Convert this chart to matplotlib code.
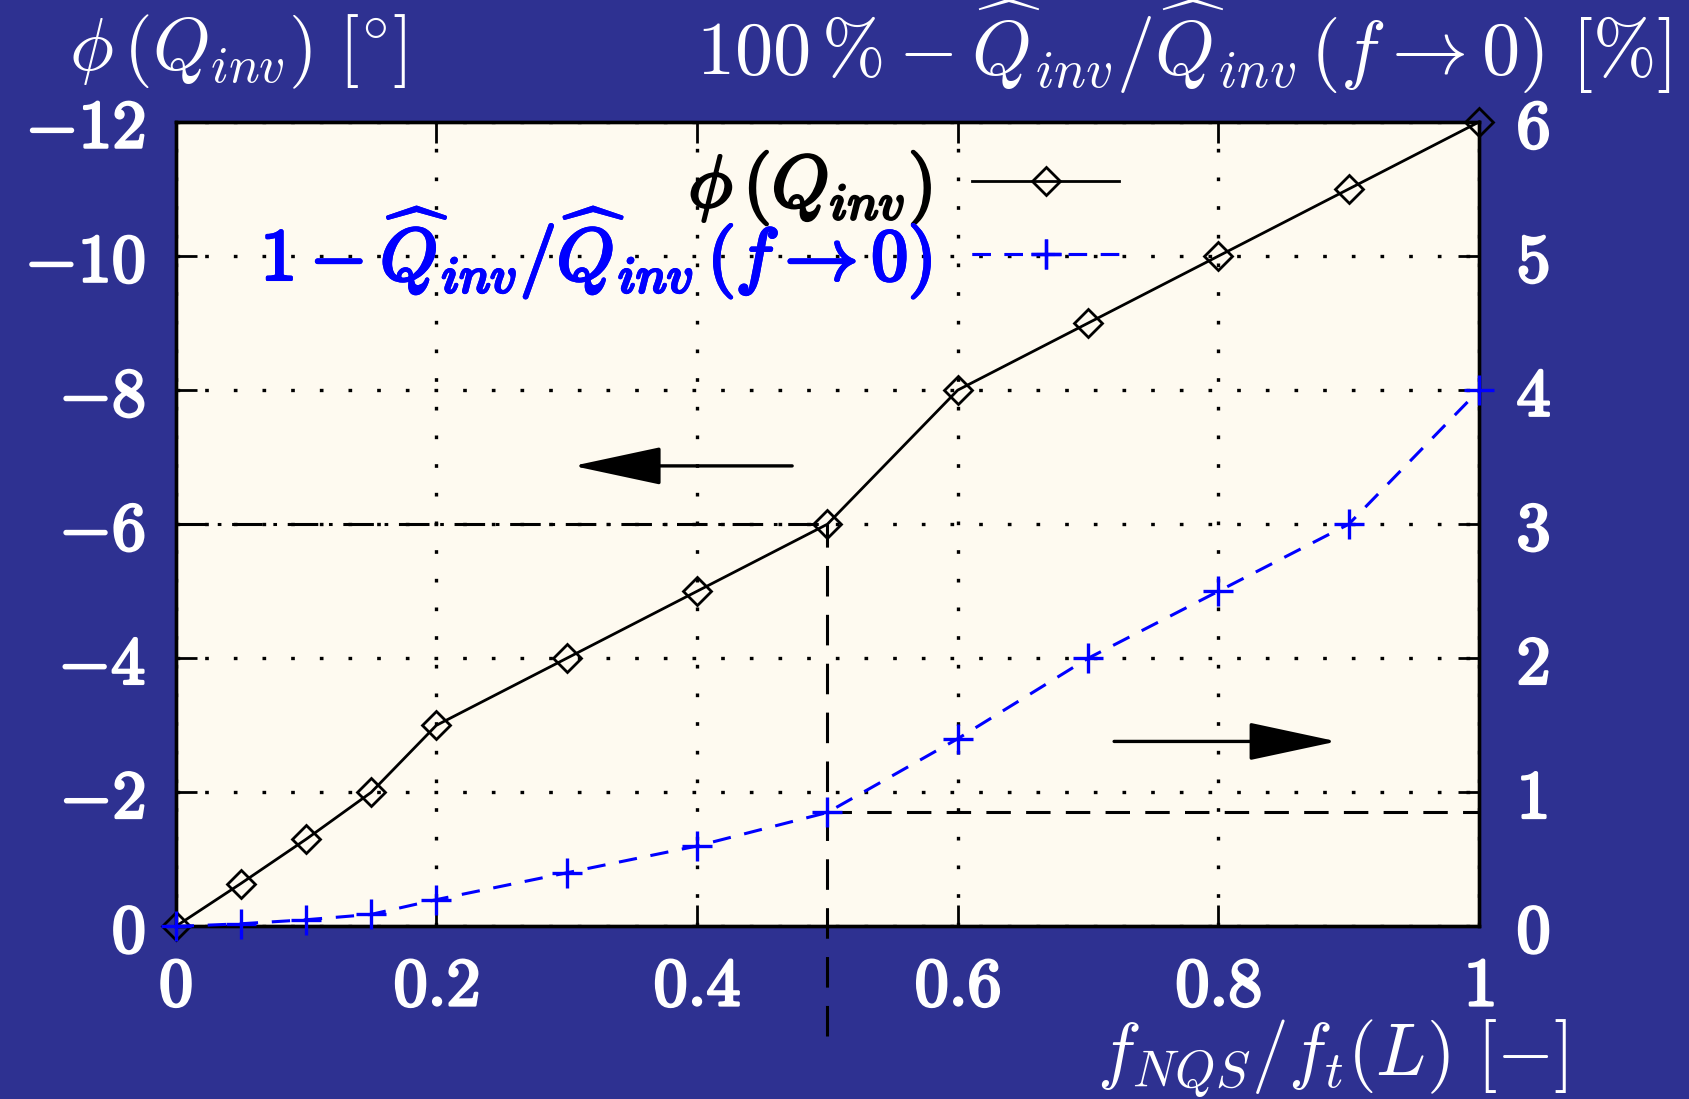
import numpy as np
import matplotlib.pyplot as plt
from matplotlib import patheffects as pe
from matplotlib.transforms import blended_transform_factory

plt.rcParams['mathtext.fontset'] = 'cm'
plt.rcParams['font.family'] = ['DejaVu Serif']

# data
f_ratio = [0, 0.05, 0.1, 0.15, 0.2, 0.3, 0.4, 0.5, 0.6, 0.7, 0.8, 0.9, 1.0]
phi = [0, -0.64, -1.3, -2.0, -3.0, -4.0, -5.0, -6.0, -8.0, -9.0, -10.0, -11.0, -12.0]
dq = [0, 0.02, 0.05, 0.09, 0.2, 0.4, 0.6, 0.85, 1.4, 2.0, 2.5, 3.0, 4.0]

xticks = [0, 0.2, 0.4, 0.6, 0.8, 1]
xticklabels = ['0', '0.2', '0.4', '0.6', '0.8', '1']
yticks_left = [0, -2, -4, -6, -8, -10, -12]
yticks_left_labels = ['0', '-2', '-4', '-6', '-8', '-10', '-12']
yticks_right = [0, 1, 2, 3, 4, 5, 6]
x_ref = 0.5

bg = '#2e3191'
cream = '#fefaf0'
fs_tick = 49
fs_lab = 53
fs_leg = 53

fig = plt.figure(figsize=(16.89, 10.99), dpi=100, facecolor=bg)
ax = fig.add_axes([0.104, 0.157, 0.7717, 0.732])
ax.set_facecolor(cream)
ax2 = ax.twinx()

grid_ls = (0, (1.1, 7.5))
ax.grid(True, color='black', ls=grid_ls, lw=2.4)
ax.set_axisbelow(True)

l1, = ax.plot(f_ratio, phi, color='black', lw=2.0, marker='D', ms=14,
              mfc='none', mec='black', mew=2.0, clip_on=False, zorder=5,
              label=r'$\phi\,(Q_{inv})$')
l2, = ax2.plot(f_ratio, dq, color='blue', lw=2.2, ls=(0, (6, 4.5)), marker='+',
               ms=21, mew=2.4, clip_on=False, zorder=5,
               label=r'$1-\widehat{Q}_{inv}/\widehat{Q}_{inv}\,(f\rightarrow 0)$')

ax.set_xlim(0, 1)
ax.set_ylim(0, -12)
ax2.set_ylim(0, 6)

# reference lines at f = 0.5
i_ref = f_ratio.index(x_ref)
phi_ref = phi[i_ref]
dq_ref = dq[i_ref]
trans = blended_transform_factory(ax.transData, ax.transAxes)
ax.plot([x_ref, x_ref], [-0.136, phi_ref / -12], transform=trans, color='black',
        lw=2.2, ls=(0, (10, 6)), clip_on=False, zorder=3)
ax.plot([0, x_ref], [phi_ref, phi_ref], color='black', lw=2.2,
        ls=(0, (10, 3.5, 1.2, 3.5)), zorder=3)
ax2.plot([x_ref, 1], [dq_ref, dq_ref], color='black', lw=2.2,
         ls=(0, (8, 5)), zorder=3)

# arrows
arrow_style = dict(arrowstyle='-|>,head_length=1.4,head_width=0.3',
                   color='black', lw=2.4, mutation_scale=40, shrinkA=0, shrinkB=0)
ax.annotate('', xy=(0.305, -6.87), xytext=(0.473, -6.87), arrowprops=arrow_style)
ax.annotate('', xy=(0.891, -2.76), xytext=(0.72, -2.76), arrowprops=arrow_style)

stroke = [pe.withStroke(linewidth=2.0, foreground='white')]

ax.set_xticks(xticks)
ax.set_xticklabels([r'$\mathbf{%s}$' % t for t in xticklabels])
ax.set_yticks(yticks_left)
ax.set_yticklabels([r'$\mathbf{%s}$' % t for t in yticks_left_labels])
ax2.set_yticks(yticks_right)
ax2.set_yticklabels([r'$\mathbf{%d}$' % t for t in yticks_right])

ax.tick_params(axis='x', direction='in', length=15, width=2, top=True,
               labelsize=fs_tick, labelcolor='white', pad=20)
ax.tick_params(axis='y', direction='in', length=15, width=2, right=False,
               labelsize=fs_tick, labelcolor='white', pad=22)
ax2.tick_params(axis='y', direction='in', length=15, width=2,
                labelsize=fs_tick, labelcolor='white', pad=27)
for lab in ax.get_xticklabels() + ax.get_yticklabels() + ax2.get_yticklabels():
    lab.set_path_effects(stroke)

for a in (ax, ax2):
    for s in a.spines.values():
        s.set_linewidth(2.4)
        s.set_color('black')

# legend: one entry per box so the rows can sit close like the original
leg_y = [0.918, 0.838]
for line, c, y in zip([l1, l2], ['black', 'blue'], leg_y):
    leg = ax2.legend([line], [line.get_label()], loc='center right',
                     bbox_to_anchor=(0.724, y), frameon=False, markerfirst=False,
                     fontsize=fs_leg, handlelength=2.0, numpoints=1,
                     handletextpad=0.55, borderaxespad=0, borderpad=0)
    for t in leg.get_texts():
        t.set_color(c)
        t.set_path_effects([pe.withStroke(linewidth=2.0, foreground=c)])
    ax2.add_artist(leg)

fig.text(0.041, 0.953, r'$\phi\,(Q_{inv})\ [^{\circ}]$', color='white',
         fontsize=fs_lab, ha='left', va='center')
fig.text(0.989, 0.957, r'$100\,\%-\widehat{Q}_{inv}/\widehat{Q}_{inv}\,(f\rightarrow 0)\ [\%]$',
         color='white', fontsize=55, ha='right', va='center')
fig.text(0.928, 0.037, r'$f_{NQS}/f_t(L)\ [-]$', color='white',
         fontsize=fs_lab, ha='right', va='center')

plt.savefig('out.png', dpi=100, facecolor=bg)
